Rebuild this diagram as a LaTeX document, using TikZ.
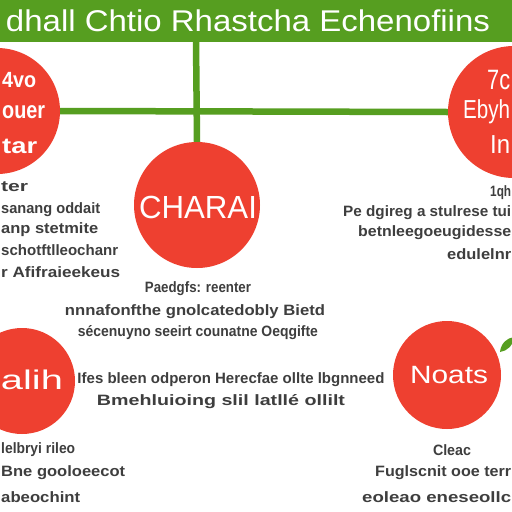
\documentclass[tikz,border=0pt]{standalone}
\usepackage{fontspec}
\usepackage{graphicx}
\setmainfont{Liberation Sans}
\definecolor{gr}{RGB}{86,158,32}
\definecolor{rd}{RGB}{238,64,48}
\definecolor{tx}{RGB}{62,62,62}
\newcommand{\fw}[2]{\resizebox{#1pt}{\height}{#2}}
\begin{document}
\begin{tikzpicture}[x=1pt,y=-1pt,
  dot/.style={circle,fill=rd,draw=none,inner sep=0pt},
  ctext/.style={text=white,font=\fontsize{24}{26}\selectfont,inner sep=0pt},
  body/.style={text=tx,font=\bfseries\fontsize{15}{16}\selectfont,inner sep=0pt},
  link/.style={draw=gr,line width=6.5pt}]
\useasboundingbox (0,0) rectangle (512,512);
\fill[white] (0,0) rectangle (512,512);
\begin{scope}
\clip (0,0) rectangle (512,512);
% banner
\node[fill=gr,minimum width=512pt,minimum height=42pt,inner sep=0pt,anchor=north west] (banner) at (0,0) {};
\node[text=white,font=\fontsize{30}{32}\selectfont,inner sep=0pt] (title) at (248,21) {\fw{484}{dhall Chtio Rhastcha Echenofiins}};
% circles
\node[dot,minimum size=126pt] (tl) at (-3,111) {};
\node[dot,minimum size=126pt] (cc) at (197,205) {};
\node[dot,minimum size=132pt] (tr) at (514,112) {};
\node[dot,minimum size=106pt] (bl) at (22,381) {};
\node[dot,minimum size=108pt] (br) at (447,375) {};
% connectors
\coordinate (vtop) at (196,41);
\draw[link] (vtop) -- (cc.north);
\draw[link] (tl.east) -- (tr.west);
% circle texts
\node[ctext,font=\bfseries\fontsize{22}{24}\selectfont,anchor=west] (tl1) at (2,80) {\fw{34}{4vo}};
\node[ctext,font=\bfseries\fontsize{24}{26}\selectfont,anchor=west] (tl2) at (2,112) {\fw{43}{ouer}};
\node[ctext,font=\bfseries\fontsize{22}{24}\selectfont,anchor=west] (tl3) at (2,146) {\fw{35}{tar}};
\node[ctext,font=\fontsize{28}{30}\selectfont,anchor=west] (tr1) at (487,80) {\fw{23}{7c}};
\node[ctext,font=\fontsize{26}{28}\selectfont,anchor=west] (tr2) at (463,112) {\fw{47}{Ebyh}};
\node[ctext,font=\fontsize{26}{28}\selectfont,anchor=west] (tr3) at (490,145) {\fw{20}{In}};
\node[ctext,font=\fontsize{32}{34}\selectfont] (cct) at (198,207) {\fw{118}{CHARAI}};
\node[ctext,font=\fontsize{27}{29}\selectfont] (blt) at (32,380) {\fw{62}{alih}};
\node[ctext,font=\fontsize{25}{27}\selectfont] (brt) at (449,375) {\fw{78}{Noats}};
% leaf
\fill[gr] (500,352) .. controls (501,343) and (507,338) .. (514,337) .. controls (513,346) and (507,351) .. (500,352) -- cycle;
% body texts left top
\node[body,anchor=west] (a1) at (1,187) {\fw{27}{ter}};
\node[body,anchor=west] (a2) at (1,210) {\fw{99}{sanang oddait}};
\node[body,anchor=west] (a3) at (1,230) {\fw{97}{anp stetmite}};
\node[body,anchor=west] (a4) at (1,250) {\fw{117}{schotftlleochanr}};
\node[body,anchor=west] (a5) at (1,272) {\fw{119}{r Afifraieekeus}};
% center texts
\node[body] (b1) at (198,289) {\fw{106}{Paedgfs: reenter}};
\node[body] (b2) at (195,312) {\fw{260}{nnnafonfthe gnolcatedobly Bietd}};
\node[body] (b3) at (198,333) {\fw{240}{sécenuyno seeirt counatne Oeqgifte}};
\node[body] (b4) at (231,380) {\fw{307}{Ifes bleen odperon Herecfae ollte lbgnneed}};
\node[body] (b5) at (221,402) {\fw{248}{Bmehluioing slil latllé ollilt}};
% right top texts
\node[body,anchor=west] (c1) at (490,193) {\fw{21}{1qh}};
\node[body,anchor=west] (c2) at (343,213) {\fw{168}{Pe dgireg a stulrese tui}};
\node[body,anchor=west] (c3) at (358,233) {\fw{153}{betnleegoeugidesse}};
\node[body,anchor=west] (c4) at (447,254) {\fw{64}{edulelnr}};
% bottom left texts
\node[body,anchor=west] (d1) at (1,450) {\fw{74}{lelbryi rileo}};
\node[body,anchor=west] (d2) at (1,473) {\fw{124}{Bne gooloeecot}};
\node[body,anchor=west] (d3) at (1,497) {\fw{79}{abeochint}};
% bottom right texts
\node[body] (e1) at (452,450) {\fw{38}{Cleac}};
\node[body,anchor=west] (e2) at (375,473) {\fw{136}{Fuglscnit ooe terr}};
\node[body,anchor=west] (e3) at (362,497) {\fw{149}{eoleao eneseollc}};
\end{scope}
\end{tikzpicture}
\end{document}
